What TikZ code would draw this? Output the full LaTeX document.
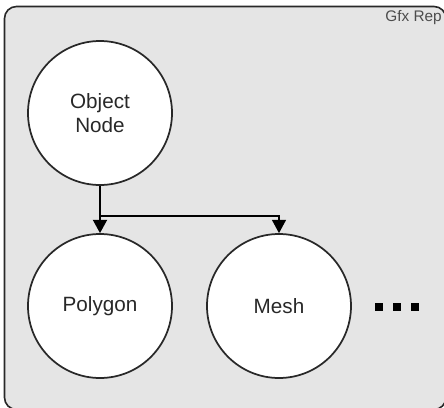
\documentclass[tikz,border=0pt]{standalone}
\usepackage{fontspec}
\setmainfont{Liberation Sans}
\usetikzlibrary{arrows.meta}
\definecolor{bgfill}{RGB}{229,229,229}
\definecolor{edge}{RGB}{40,40,40}
\definecolor{txt}{RGB}{40,40,40}
\begin{document}
\begin{tikzpicture}[x=0.75pt,y=-0.75pt,
  ball/.style={circle,draw=edge,line width=1.3pt,fill=white,minimum size=108pt,inner sep=0pt,
    font=\fontsize{15.5}{18}\selectfont,text=txt,align=center},
  link/.style={draw=black,line width=1.1pt,-{Triangle[length=10pt,width=10.5pt]}},
  dot/.style={fill=black,minimum size=5.5pt,inner sep=0pt,draw=none}]
\useasboundingbox (0,0) rectangle (444,408);
\begin{scope}
\clip (0,0) rectangle (444,408);
\draw[draw=edge,line width=1.2pt,fill=bgfill,rounded corners=9pt] (4.5,6.5) rectangle (446,409.5);
\end{scope}
\node[anchor=east,inner sep=0pt,font=\fontsize{11.5}{13}\selectfont,text=black!70] (title) at (442,18) {Gfx Rep};
\node[ball] (obj) at (100,113) {Object\\Node};
\node[ball] (poly) at (100,306) {Polygon};
\node[ball] (mesh) at (279,306) {Mesh};
\coordinate (split) at (100,216);
\coordinate (corner) at (279,216);
\draw[link,line width=1.5pt] (obj.south) -- (poly.north);
\draw[link] (split) -- (corner) -- (mesh.north);
\node[dot] (d1) at (379,307) {};
\node[dot] (d2) at (397,307) {};
\node[dot] (d3) at (415,307) {};
\end{tikzpicture}
\end{document}
